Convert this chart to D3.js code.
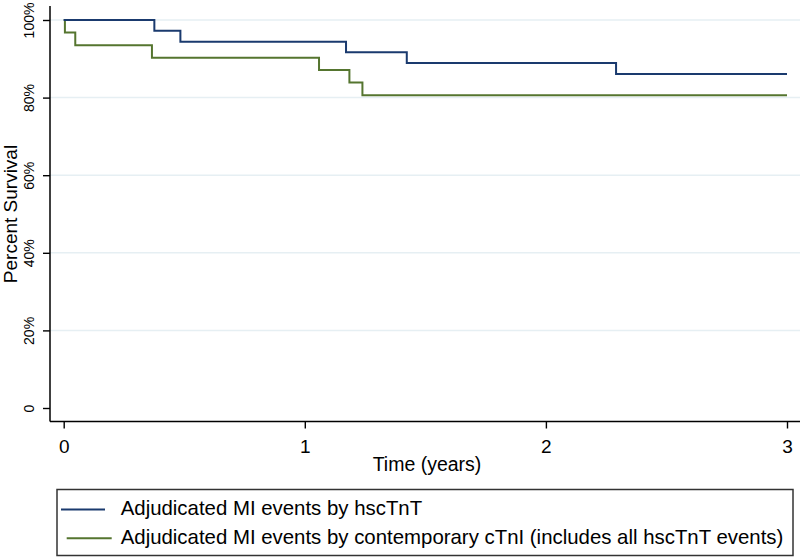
<!DOCTYPE html>
<html><head><meta charset="utf-8">
<script src="https://cdn.jsdelivr.net/npm/d3@7"></script>
<style>
html,body{margin:0;padding:0;background:#fff;}
svg{display:block;font-family:"Liberation Sans",Arial,sans-serif;}
</style></head>
<body>
<svg id="chart" width="800" height="557"></svg>
<script>
// Kaplan-Meier step data (time in years, survival in %)
const seriesNames = ["Adjudicated MI events by hscTnT", "Adjudicated MI events by contemporary cTnI (includes all hscTnT events)"];
const hsTimes = [0, 0.376, 0.484, 1.171, 1.423, 2.291, 3.0];
const hsSurv  = [100, 97.2, 94.4, 91.7, 88.9, 86.1, 86.1];
const cTimes  = [0, 0.005, 0.048, 0.366, 1.059, 1.185, 1.239, 3.0];
const cSurv   = [100, 96.8, 93.5, 90.3, 87.1, 83.9, 80.6, 80.6];
const xTicks = [0, 1, 2, 3];
const yTicks = [0, 20, 40, 60, 80, 100];
const yTickLabels = ["0", "20%", "40%", "60%", "80%", "100%"];
const colors = ["#1a3a6e", "#55752f"];

const svg = d3.select("#chart");
const x = d3.scaleLinear().domain([0, 3]).range([63.7, 787]);
const y = d3.scaleLinear().domain([0, 100]).range([408, 20]);
const axisLeft = 50, axisBottom = 421.5;

// gridlines
svg.append("g").selectAll("line").data(yTicks.filter(d => d > 0)).join("line")
  .attr("x1", axisLeft).attr("x2", 800)
  .attr("y1", d => y(d)).attr("y2", d => y(d))
  .attr("stroke", "#e6eff3").attr("stroke-width", 1.5);

// y axis
const gy = svg.append("g").attr("transform", `translate(${axisLeft},0)`)
  .call(d3.axisLeft(y).tickValues(yTicks).tickFormat((d, i) => yTickLabels[i]).tickSize(7).tickSizeOuter(0));
gy.select(".domain").remove();
gy.selectAll(".tick line").attr("stroke", "#000").attr("stroke-width", 1.4);
gy.selectAll(".tick text").attr("font-size", 14).attr("fill", "#000")
  .attr("transform", "rotate(-90)").attr("text-anchor", "middle")
  .attr("x", 0).attr("dy", 0)
  .attr("y", -16);
svg.append("line").attr("x1", axisLeft).attr("x2", axisLeft).attr("y1", 6).attr("y2", axisBottom)
  .attr("stroke", "#000").attr("stroke-width", 1.5);

// x axis
const gx = svg.append("g").attr("transform", `translate(0,${axisBottom})`)
  .call(d3.axisBottom(x).tickValues(xTicks).tickFormat(d3.format("d")).tickSize(7).tickSizeOuter(0));
gx.select(".domain").remove();
gx.selectAll(".tick line").attr("stroke", "#000").attr("stroke-width", 1.4);
gx.selectAll(".tick text").attr("font-size", 19).attr("fill", "#000").attr("dy", 0).attr("y", 31);
svg.append("line").attr("x1", axisLeft).attr("x2", 800).attr("y1", axisBottom).attr("y2", axisBottom)
  .attr("stroke", "#000").attr("stroke-width", 1.5);

// axis titles
svg.append("text").attr("transform", `translate(17,${(y(0)+y(100))/2}) rotate(-90)`)
  .attr("text-anchor", "middle").attr("font-size", 19).text("Percent Survival");
svg.append("text").attr("x", 427).attr("y", 471).attr("text-anchor", "middle")
  .attr("font-size", 19.5).text("Time (years)");

// step lines
const line = d3.line().x(d => x(d[0])).y(d => y(d[1])).curve(d3.curveStepAfter);
const series = [d3.zip(hsTimes, hsSurv), d3.zip(cTimes, cSurv)];
// draw green first, blue on top
[1, 0].forEach(i => {
  svg.append("path").datum(series[i]).attr("d", line)
    .attr("fill", "none").attr("stroke", colors[i]).attr("stroke-width", 2);
});

// legend
svg.append("rect").attr("x", 57).attr("y", 489.5).attr("width", 736).attr("height", 66)
  .attr("fill", "#fff").attr("stroke", "#333").attr("stroke-width", 1.5);
const legRows = [{y: 509.5, x1: 61, x2: 105, ty: 515}, {y: 538.3, x1: 66.7, x2: 111.7, ty: 544.3}];
legRows.forEach((r, i) => {
  svg.append("line").attr("x1", r.x1).attr("x2", r.x2).attr("y1", r.y).attr("y2", r.y)
    .attr("stroke", colors[i]).attr("stroke-width", 2);
  svg.append("text").attr("x", 120.7).attr("y", r.ty).attr("font-size", 20.4).text(seriesNames[i]);
});
</script>
</body></html>
